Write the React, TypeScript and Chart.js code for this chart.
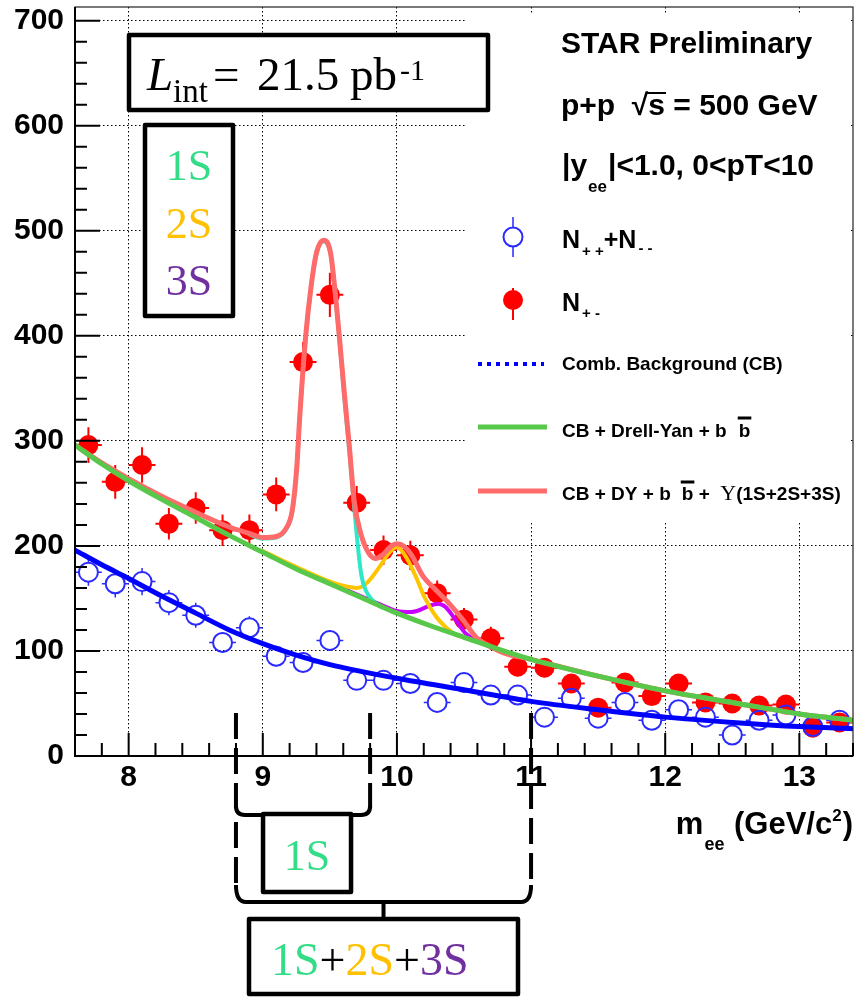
import React, { useEffect, useRef } from "react";
import { Chart, registerables } from "chart.js";

Chart.register(...registerables);

// ---------------- data ----------------
const massBins = [7.7, 7.9, 8.1, 8.3, 8.5, 8.7, 8.9, 9.1, 9.3, 9.5, 9.7, 9.9, 10.1, 10.3, 10.5, 10.7, 10.9, 11.1, 11.3, 11.5, 11.7, 11.9, 12.1, 12.3, 12.5, 12.7, 12.9, 13.1, 13.3];
const unlikeSign = [296, 261, 277, 221, 236, 215, 215, 249, 375, 439, 241, 196, 191, 155, 130, 112, 85, 84, 69, 46, 70, 57, 69, 51, 50, 48, 49, 27, 32];
const unlikeSignErr = [17, 16, 17, 15, 15, 15, 15, 16, 19, 21, 16, 14, 14, 12, 11, 11, 9, 9, 8, 7, 8, 8, 8, 7, 7, 7, 7, 5, 6];
const likeSign = [175, 164, 166, 146, 134, 108, 122, 95, 89, 110, 72, 72, 69, 51, 70, 58, 58, 37, 55, 36, 51, 34, 44, 37, 20, 34, 39, 28, 34];
const likeSignErr = [13, 13, 13, 12, 12, 10, 11, 10, 9, 10, 8, 8, 8, 7, 8, 8, 8, 6, 7, 6, 7, 6, 7, 6, 4, 6, 6, 5, 6];
const binHalfWidth = 0.1;

// Combinatorial background fit
const cbX = [7.6, 7.8, 8.0, 8.25, 8.5, 8.75, 9.0, 9.25, 9.5, 10.0, 10.5, 11.0, 11.5, 12.0, 12.5, 13.0, 13.4];
const cbY = [196, 182, 169, 152, 136, 120, 107, 96, 87, 74, 63, 52, 44, 37, 32, 28, 26];

// CB + Drell-Yan + bbbar
const dyX = [7.6, 7.8, 8.0, 8.25, 8.5, 8.75, 9.0, 9.25, 9.5, 9.75, 10.0, 10.25, 10.5, 10.75, 11.0, 11.5, 12.0, 12.5, 13.0, 13.4];
const dyY = [296, 278, 262, 244, 227, 210, 194, 178, 164, 150, 136, 124, 113, 102, 92, 76, 62, 51, 40, 34];

// CB + DY + bbbar + Upsilon(1S+2S+3S)
const totalX = [7.6, 7.8, 8.0, 8.25, 8.5, 8.75, 8.9, 9.0, 9.1, 9.17, 9.22, 9.254, 9.274, 9.32, 9.36, 9.4, 9.455, 9.505, 9.535, 9.57, 9.608, 9.645, 9.682, 9.73, 9.79, 9.84, 9.9, 9.95, 10.0, 10.05, 10.11, 10.19, 10.29, 10.39, 10.49, 10.59, 10.7, 10.8, 11.0, 11.5, 12.0, 12.5, 13.0, 13.4];
const totalY = [296, 279, 264, 247, 232, 218, 212, 208, 209, 216, 234, 276, 320, 400, 447, 479, 491, 479, 447, 400, 345, 295, 242, 212, 193, 188, 192, 199, 202, 200, 191, 172, 158, 145, 130, 113, 104, 98, 92, 76, 62, 51, 40, 34];

// CB + DY + bbbar + 1S
const ups1sX = [8.9, 9.0, 9.1, 9.17, 9.22, 9.254, 9.274, 9.32, 9.36, 9.4, 9.455, 9.505, 9.535, 9.57, 9.608, 9.645, 9.682, 9.71, 9.735, 9.77, 9.82, 9.87, 9.92, 10.0];
const ups1sY = [211, 207, 208, 215, 233, 275, 319, 399, 446, 478, 490, 478, 446, 398, 341, 290, 236, 198, 172, 157, 148, 143, 140, 136];

// CB + DY + bbbar + 2S
const ups2sX = [9.0, 9.3, 9.5, 9.6, 9.7, 9.75, 9.8, 9.87, 9.94, 10.0, 10.065, 10.14, 10.21, 10.29, 10.36, 10.43, 10.5, 10.6];
const ups2sY = [195, 177, 166, 162, 160, 162, 168, 180, 193, 199, 190, 171, 150, 133, 123, 116, 113, 109];

// CB + DY + bbbar + 3S
const ups3sX = [9.5, 9.75, 9.9, 10.0, 10.1, 10.17, 10.24, 10.31, 10.36, 10.43, 10.51, 10.6];
const ups3sY = [165, 151, 143, 138, 137, 139, 143, 145, 142, 131, 117, 109];

const xTickValues = [8, 9, 10, 11, 12, 13];
const yTickValues = [0, 100, 200, 300, 400, 500, 600, 700];
const xMin = 7.6, xMax = 13.4, yMin = 0, yMax = 713;
const window1S = [8.8, 9.8];
const windowAll = [8.8, 11.0];

// ---------------- styles ----------------
const SANS = "'Liberation Sans', Arial, Helvetica, sans-serif";
const SERIF = "'Liberation Serif', 'Times New Roman', serif";
const C_RED_PTS = "#ff0000";
const C_BLUE_PTS = "#2a2aff";
const C_CB = "#0000ff";
const C_DY = "#58c84a";
const C_TOT = "#ff6a6a";
const C_1S = "#2ee8c8";
const C_2S = "#ffc400";
const C_3S = "#c800ff";
const T_1S = "#33dd88";
const T_2S = "#ffc000";
const T_3S = "#7030a0";

const toXY = (xs: number[], ys: number[]) => xs.map((x, i) => ({ x, y: ys[i] }));

function lineDs(label: string, xs: number[], ys: number[], color: string, width: number) {
  return {
    label,
    data: toXY(xs, ys),
    showLine: true,
    borderColor: color,
    backgroundColor: color,
    borderWidth: width,
    pointRadius: 0,
    pointHoverRadius: 0,
    fill: false,
    cubicInterpolationMode: "monotone",
    borderCapStyle: "round",
    borderJoinStyle: "round",
  };
}

function drawErrors(ctx: any, xs: any, ys: any, bx: number[], vals: number[], errs: number[], color: string, width: number, gap: number) {
  ctx.save();
  ctx.strokeStyle = color;
  ctx.lineWidth = width;
  ctx.beginPath();
  for (let i = 0; i < bx.length; i++) {
    const px = xs.getPixelForValue(bx[i]);
    const py = ys.getPixelForValue(vals[i]);
    const t = ys.getPixelForValue(vals[i] + errs[i]);
    const b = ys.getPixelForValue(vals[i] - errs[i]);
    const l = xs.getPixelForValue(bx[i] - binHalfWidth);
    const r = xs.getPixelForValue(bx[i] + binHalfWidth);
    if (py - gap > t) { ctx.moveTo(px, t); ctx.lineTo(px, py - gap); }
    if (py + gap < b) { ctx.moveTo(px, py + gap); ctx.lineTo(px, b); }
    if (px - gap > l) { ctx.moveTo(l, py); ctx.lineTo(px - gap, py); }
    if (px + gap < r) { ctx.moveTo(px + gap, py); ctx.lineTo(r, py); }
  }
  ctx.stroke();
  ctx.restore();
}

function txt(ctx: any, s: string, x: number, y: number, font: string, color = "#000", align: CanvasTextAlign = "left") {
  ctx.font = font;
  ctx.fillStyle = color;
  ctx.textAlign = align;
  ctx.textBaseline = "alphabetic";
  ctx.fillText(s, x, y);
  return ctx.measureText(s).width;
}

function box(ctx: any, x: number, y: number, w: number, h: number, lw = 4.5) {
  ctx.save();
  ctx.fillStyle = "#fff";
  ctx.fillRect(x, y, w, h);
  ctx.strokeStyle = "#000";
  ctx.lineWidth = lw;
  ctx.lineJoin = "round";
  ctx.strokeRect(x, y, w, h);
  ctx.restore();
}

const overlay = {
  id: "overlay",
  beforeDatasetsDraw(chart: any) {
    const { ctx, scales } = chart;
    ctx.save();
    // legend pad (white, no border)
    ctx.fillStyle = "#fff";
    ctx.fillRect(465, 14, 384, 507);
    ctx.restore();
    drawErrors(ctx, scales.x, scales.y, massBins, unlikeSign, unlikeSignErr, C_RED_PTS, 2, 0);
    drawErrors(ctx, scales.x, scales.y, massBins, likeSign, likeSignErr, C_BLUE_PTS, 1.5, 9.5);
  },
  afterDraw(chart: any) {
    const { ctx, scales, chartArea } = chart;
    const { left, right, top, bottom } = chartArea;
    const xs = scales.x, ys = scales.y;
    ctx.save();

    // frame
    ctx.strokeStyle = "#222";
    ctx.lineWidth = 1.2;
    ctx.strokeRect(left, top, right - left, bottom - top);
    ctx.strokeStyle = "#000";
    ctx.lineWidth = 2;
    ctx.beginPath();
    ctx.moveTo(left, top);
    ctx.lineTo(left, bottom);
    ctx.lineTo(right, bottom);
    ctx.stroke();

    // tick marks (inward)
    ctx.lineWidth = 2;
    ctx.beginPath();
    for (let k = 0; k * 20 <= yMax; k++) {
      const v = k * 20;
      const py = ys.getPixelForValue(v);
      const len = v % 100 === 0 ? 25 : 12;
      ctx.moveTo(left, py);
      ctx.lineTo(left + len, py);
    }
    for (let k = Math.ceil(xMin * 5 - 1e-6); k <= Math.floor(xMax * 5 + 1e-6); k++) {
      const px = xs.getPixelForValue(k / 5);
      const len = k % 5 === 0 ? 23 : 13;
      ctx.moveTo(px, bottom);
      ctx.lineTo(px, bottom - len);
    }
    ctx.stroke();

    // ---- legend ----
    const B30 = `bold 30px ${SANS}`;
    txt(ctx, "STAR Preliminary", 561, 53, B30);
    let x = 561;
    x += txt(ctx, "p+p  ", x, 115, B30);
    const wr = txt(ctx, "\u221A", x, 115, B30);
    x += wr;
    const ws = txt(ctx, "s", x, 115, B30);
    ctx.strokeStyle = "#000";
    ctx.lineWidth = 2;
    ctx.beginPath();
    ctx.moveTo(x - 2, 93);
    ctx.lineTo(x + ws + 1, 93);
    ctx.stroke();
    x += ws;
    txt(ctx, " = 500 GeV", x, 115, B30);

    x = 562;
    x += txt(ctx, "|y", x, 175, B30);
    x += txt(ctx, "ee", x + 1, 192, `bold 17px ${SANS}`) + 2;
    txt(ctx, "|<1.0, 0<pT<10", x, 175, B30);

    // N++ + N-- symbol
    ctx.strokeStyle = C_BLUE_PTS;
    ctx.lineWidth = 1.5;
    ctx.beginPath();
    ctx.moveTo(513, 217); ctx.lineTo(513, 227.5);
    ctx.moveTo(513, 246.5); ctx.lineTo(513, 257);
    ctx.stroke();
    ctx.beginPath();
    ctx.arc(513, 237, 9.5, 0, Math.PI * 2);
    ctx.lineWidth = 2;
    ctx.stroke();
    const B25 = `bold 25px ${SANS}`;
    const B15 = `bold 15px ${SANS}`;
    x = 562;
    x += txt(ctx, "N", x, 248, B25);
    x += txt(ctx, "+ +", x + 2, 256, B15) + 2;
    x += txt(ctx, "+N", x, 248, B25);
    txt(ctx, "- -", x + 2, 253, B15);

    // N+- symbol
    ctx.strokeStyle = C_RED_PTS;
    ctx.lineWidth = 2;
    ctx.beginPath();
    ctx.moveTo(513, 288); ctx.lineTo(513, 320);
    ctx.stroke();
    ctx.fillStyle = C_RED_PTS;
    ctx.beginPath();
    ctx.arc(513, 300, 10, 0, Math.PI * 2);
    ctx.fill();
    x = 562;
    x += txt(ctx, "N", x, 311, B25);
    txt(ctx, "+ -", x + 2, 318, B15);

    // line legends
    ctx.save();
    ctx.strokeStyle = C_CB;
    ctx.lineWidth = 4;
    ctx.setLineDash([4, 5]);
    ctx.beginPath();
    ctx.moveTo(478, 364); ctx.lineTo(544, 364);
    ctx.stroke();
    ctx.restore();
    ctx.lineCap = "butt";
    ctx.strokeStyle = C_DY;
    ctx.lineWidth = 5;
    ctx.beginPath(); ctx.moveTo(478, 427); ctx.lineTo(547, 427); ctx.stroke();
    ctx.strokeStyle = C_TOT;
    ctx.beginPath(); ctx.moveTo(478, 491); ctx.lineTo(547, 491); ctx.stroke();

    const B19 = `bold 19px ${SANS}`;
    txt(ctx, "Comb. Background (CB)", 562, 370, B19);
    x = 562;
    x += txt(ctx, "CB + Drell-Yan + b", x, 437, B19);
    x += 12;
    let wb = txt(ctx, "b", x, 437, B19);
    ctx.strokeStyle = "#000";
    ctx.lineWidth = 3;
    ctx.beginPath(); ctx.moveTo(x - 1, 418); ctx.lineTo(x + wb + 1, 418); ctx.stroke();

    x = 562;
    x += txt(ctx, "CB + DY + b", x, 500, B19);
    x += 11;
    wb = txt(ctx, "b", x, 500, B19);
    ctx.beginPath(); ctx.moveTo(x - 1, 482); ctx.lineTo(x + wb + 1, 482); ctx.stroke();
    x += wb;
    x += txt(ctx, " +  ", x, 500, B19);
    x += txt(ctx, "\u03A5", x, 500, `22px ${SERIF}`);
    txt(ctx, "(1S+2S+3S)", x, 500, B19);

    // ---- luminosity box ----
    box(ctx, 129, 35, 359, 75);
    txt(ctx, "L", 147, 90, `italic 47px ${SERIF}`);
    txt(ctx, "int", 173, 102, `33px ${SERIF}`);
    txt(ctx, "=", 213, 90, `47px ${SERIF}`);
    txt(ctx, "21.5", 257, 90, `47px ${SERIF}`);
    txt(ctx, "pb", 350, 90, `47px ${SERIF}`);
    txt(ctx, "-1", 400, 80, `30px ${SERIF}`);

    // ---- state colour key ----
    box(ctx, 145, 125, 88, 191);
    const S44 = `44px ${SERIF}`;
    txt(ctx, "1S", 189, 180, S44, T_1S, "center");
    txt(ctx, "2S", 189, 238, S44, T_2S, "center");
    txt(ctx, "3S", 189, 295, S44, T_3S, "center");

    // ---- axis title ----
    {
      const B32 = `bold 31px ${SANS}`;
      ctx.font = B32;
      const wM = ctx.measureText("m").width;
      const wP = ctx.measureText(" (GeV/c").width;
      const wC = ctx.measureText(")").width;
      ctx.font = `bold 18px ${SANS}`;
      const wE = ctx.measureText("ee").width;
      ctx.font = `bold 17px ${SANS}`;
      const w2 = ctx.measureText("2").width;
      let ax = 853 - (wM + wE + 2 + wP + w2 + 1 + wC);
      ax += txt(ctx, "m", ax, 834, B32);
      ax += txt(ctx, "ee", ax + 1, 850, `bold 18px ${SANS}`) + 2;
      ax += txt(ctx, " (GeV/c", ax, 834, B32);
      ax += txt(ctx, "2", ax, 821, `bold 17px ${SANS}`) + 1;
      txt(ctx, ")", ax, 834, B32);
    }

    // ---- mass window brackets ----
    const xL = xs.getPixelForValue(window1S[0]);
    const xR1 = xs.getPixelForValue(window1S[1]);
    const xR2 = xs.getPixelForValue(windowAll[1]);
    const yStart = 713;
    ctx.strokeStyle = "#000";
    ctx.lineWidth = 4;
    ctx.lineCap = "butt";
    ctx.save();
    ctx.setLineDash([26, 9]);
    ctx.beginPath();
    ctx.moveTo(xL, yStart); ctx.lineTo(xL, 808);
    ctx.moveTo(xL, 822); ctx.lineTo(xL, 885);
    ctx.moveTo(xR1, yStart); ctx.lineTo(xR1, 808);
    ctx.moveTo(xR2, yStart); ctx.lineTo(xR2, 885);
    ctx.stroke();
    ctx.restore();
    ctx.beginPath();
    ctx.moveTo(xL, 806);
    ctx.quadraticCurveTo(xL, 815, xL + 9, 815);
    ctx.lineTo(xR1 - 9, 815);
    ctx.quadraticCurveTo(xR1, 815, xR1, 806);
    ctx.moveTo(xL, 885);
    ctx.quadraticCurveTo(xL, 902, xL + 10, 902);
    ctx.lineTo(xR2 - 10, 902);
    ctx.quadraticCurveTo(xR2, 902, xR2, 885);
    const xm = (xL + xR2) / 2;
    ctx.moveTo(xm, 902);
    ctx.lineTo(xm, 918);
    ctx.stroke();

    const c1 = (xL + xR1) / 2 + 4;
    box(ctx, c1 - 44, 814, 88, 78);
    txt(ctx, "1S", c1, 870, S44, T_1S, "center");

    box(ctx, 249, 919, 269, 75);
    {
      const S46 = `46px ${SERIF}`;
      let bx = 271;
      bx += txt(ctx, "1S", bx, 975, S46, T_1S);
      bx += txt(ctx, "+", bx, 975, S46, "#000");
      bx += txt(ctx, "2S", bx, 975, S46, T_2S);
      bx += txt(ctx, "+", bx, 975, S46, "#000");
      txt(ctx, "3S", bx, 975, S46, T_3S);
    }

    ctx.restore();
  },
};

export default function App() {
  const ref = useRef<HTMLCanvasElement | null>(null);

  useEffect(() => {
    if (!ref.current) return;
    const tickFont = { family: SANS, size: 30, weight: "bold" as const };
    const chart = new Chart(ref.current, {
      type: "scatter",
      data: {
        datasets: [
          lineDs("Comb. Background (CB)", cbX, cbY, C_CB, 5) as any,
          lineDs("CB + Drell-Yan + b bbar", dyX, dyY, C_DY, 5) as any,
          lineDs("CB + DY + b bbar + Upsilon(1S+2S+3S)", totalX, totalY, C_TOT, 5) as any,
          lineDs("1S", ups1sX, ups1sY, C_1S, 4) as any,
          lineDs("2S", ups2sX, ups2sY, C_2S, 4) as any,
          lineDs("3S", ups3sX, ups3sY, C_3S, 4) as any,
          {
            label: "N++ + N--",
            data: toXY(massBins, likeSign),
            showLine: false,
            pointRadius: 9.5,
            pointBorderWidth: 2,
            pointBorderColor: C_BLUE_PTS,
            pointBackgroundColor: "rgba(0,0,0,0)",
            borderColor: C_BLUE_PTS,
            backgroundColor: "rgba(0,0,0,0)",
          },
          {
            label: "N+-",
            data: toXY(massBins, unlikeSign),
            showLine: false,
            pointRadius: 10,
            pointBorderWidth: 0,
            pointBackgroundColor: C_RED_PTS,
            backgroundColor: C_RED_PTS,
            borderColor: C_RED_PTS,
          },
        ],
      },
      options: {
        responsive: false,
        maintainAspectRatio: false,
        animation: false,
        devicePixelRatio: 1,
        events: [],
        layout: { autoPadding: false, padding: { left: 0, top: 7, right: 4, bottom: 0 } },
        plugins: { legend: { display: false }, tooltip: { enabled: false }, title: { display: false } },
        scales: {
          x: {
            type: "linear",
            min: xMin,
            max: xMax,
            afterBuildTicks: (s: any) => { s.ticks = xTickValues.map((v) => ({ value: v })); },
            afterFit: (s: any) => { s.height = 241; s.paddingLeft = 0; s.paddingRight = 0; s.paddingTop = 0; s.paddingBottom = 0; },
            grid: { display: true, color: "#000", lineWidth: 1, drawTicks: false },
            border: { display: false, dash: [1.5, 2.5] },
            ticks: { font: tickFont, color: "#000", padding: 4, maxRotation: 0, autoSkip: false, callback: (v: any) => String(v) },
          },
          y: {
            type: "linear",
            min: yMin,
            max: yMax,
            afterBuildTicks: (s: any) => { s.ticks = yTickValues.map((v) => ({ value: v })); },
            afterFit: (s: any) => { s.width = 75; s.paddingTop = 0; s.paddingBottom = 0; s.paddingLeft = 0; s.paddingRight = 0; },
            grid: { display: true, color: "#000", lineWidth: 1, drawTicks: false },
            border: { display: false, dash: [1.5, 2.5] },
            ticks: { font: tickFont, color: "#000", padding: 11, autoSkip: false, callback: (v: any) => String(v) },
          },
        },
      },
      plugins: [overlay],
    });
    return () => chart.destroy();
  }, []);

  return (
    <div style={{ position: "absolute", left: 0, top: 0, width: 857, height: 997, background: "#fff" }}>
      <canvas ref={ref} width={857} height={997} style={{ display: "block" }} />
    </div>
  );
}
